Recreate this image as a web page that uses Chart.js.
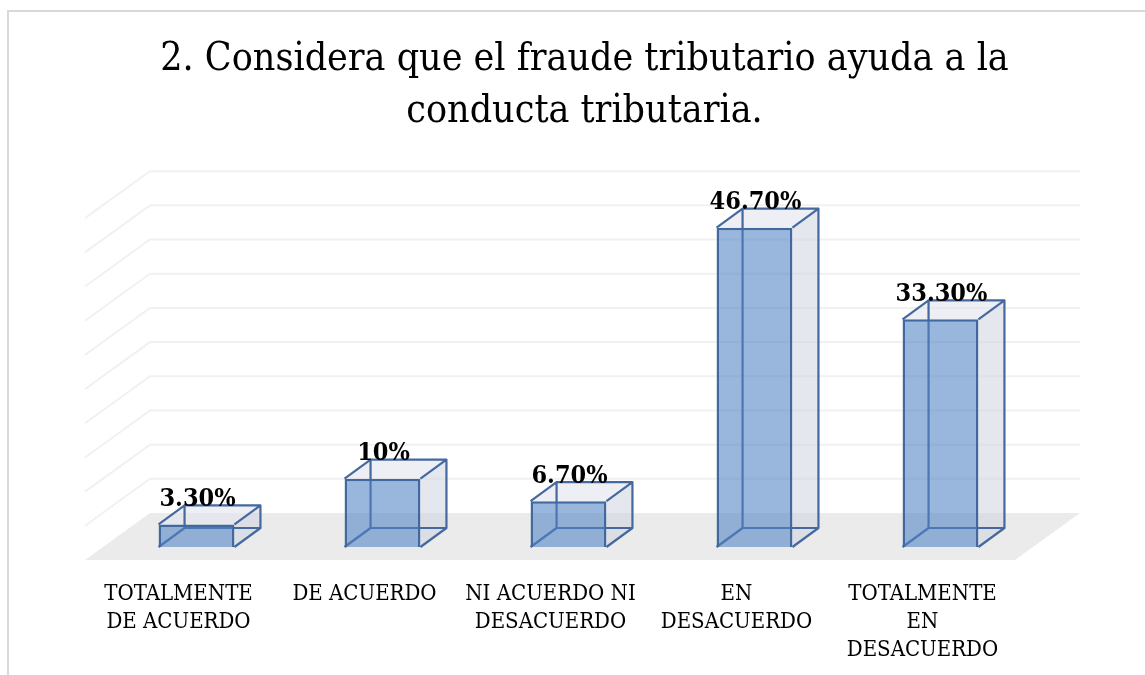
<!DOCTYPE html>
<html><head><meta charset="utf-8">
<style>html,body{margin:0;padding:0;background:#fff}canvas{display:block}</style>
<script src="https://cdn.jsdelivr.net/npm/chart.js@4"></script>
</head><body><canvas id="c" width="1145" height="675"></canvas>
<script>
const categories = [
  ["TOTALMENTE","DE ACUERDO"],
  ["DE ACUERDO"],
  ["NI ACUERDO NI","DESACUERDO"],
  ["EN","DESACUERDO"],
  ["TOTALMENTE","EN","DESACUERDO"]
];
const values = [3.3, 10, 6.7, 46.7, 33.3];
const valueLabels = ["3.30%","10%","6.70%","46.70%","33.30%"];
const titleLines = ["2. Considera que el fraude tributario ayuda a la","conducta tributaria."];
const SERIF = '"DejaVu Serif Condensed", "DejaVu Serif", serif';

const scene = {
  id:'scene',
  afterLayout(chart){
    chart.titleBlock.left += 16; chart.titleBlock.right += 16;
  },
  beforeDraw(chart){
    const c = chart.ctx; c.save();
    c.strokeStyle='#D9D9D9'; c.lineWidth=2;
    c.beginPath(); c.moveTo(8,675); c.lineTo(8,11); c.lineTo(1145,11); c.stroke();
    c.restore();
  },
  beforeDatasetsDraw(chart){
    const c = chart.ctx, y = chart.scales.y, a = chart.chartArea;
    const back={dx:46.5,dy:-34}, front={dx:-18.5,dy:13};
    const y0 = y.getPixelForValue(0);
    c.save();
    c.fillStyle='#EBEBEB';
    c.beginPath();
    c.moveTo(a.left+front.dx,y0+front.dy);
    c.lineTo(a.right+front.dx,y0+front.dy);
    c.lineTo(a.right+back.dx,y0+back.dy);
    c.lineTo(a.left+back.dx,y0+back.dy);
    c.closePath(); c.fill();
    c.strokeStyle='#F1F1F1'; c.lineWidth=2;
    y.ticks.forEach(t=>{
      if(t.value===0) return;
      const p=y.getPixelForValue(t.value);
      c.beginPath();
      c.moveTo(a.left+front.dx,p+front.dy);
      c.lineTo(a.left+back.dx,p+back.dy);
      c.lineTo(a.right+back.dx,p+back.dy);
      c.stroke();
    });
    const dx=26, dy=-19;
    chart.getDatasetMeta(0).data.forEach(b=>{
      const l=b.x-b.width/2, r=b.x+b.width/2, t=b.y, bt=b.base;
      c.fillStyle='rgba(205,212,224,0.55)';
      c.beginPath(); c.moveTo(r,t); c.lineTo(r+dx,t+dy); c.lineTo(r+dx,bt+dy); c.lineTo(r,bt); c.closePath(); c.fill();
      c.fillStyle='rgba(225,229,238,0.6)';
      c.beginPath(); c.moveTo(l,t); c.lineTo(l+dx,t+dy); c.lineTo(r+dx,t+dy); c.lineTo(r,t); c.closePath(); c.fill();
      c.strokeStyle='#45699F'; c.lineWidth=2.2; c.lineJoin='round';
      c.beginPath();
      c.moveTo(l,bt); c.lineTo(l+dx,bt+dy); c.lineTo(r+dx,bt+dy); c.lineTo(r,bt);
      c.moveTo(l+dx,bt+dy); c.lineTo(l+dx,t+dy);
      c.moveTo(l,t); c.lineTo(l+dx,t+dy); c.lineTo(r+dx,t+dy); c.lineTo(r,t);
      c.moveTo(r+dx,t+dy); c.lineTo(r+dx,bt+dy);
      c.stroke();
    });
    c.restore();
  },
  afterDatasetsDraw(chart){
    const c = chart.ctx; c.save();
    c.font='bold 25px '+SERIF; c.fillStyle='#000'; c.textAlign='center'; c.textBaseline='middle';
    chart.getDatasetMeta(0).data.forEach((b,i)=>{
      c.fillText(valueLabels[i], b.x+1, b.y-25);
    });
    c.restore();
  }
};

new Chart(document.getElementById('c'),{
  type:'bar',
  data:{labels:categories,datasets:[{
    data:values,
    backgroundColor:'rgba(79,129,196,0.58)',
    borderColor:'#41699F',
    borderWidth:2.5,
    barPercentage:0.408,
    categoryPercentage:1
  }]},
  plugins:[scene],
  options:{
    responsive:false,
    animation:false,
    events:[],
    layout:{padding:{left:103.5,right:111.5,top:0,bottom:0}},
    plugins:{
      legend:{display:false},
      tooltip:{enabled:false},
      title:{display:true,text:titleLines,color:'#000',
        font:{family:SERIF,size:39,weight:'normal',lineHeight:1.335},
        padding:{top:34,bottom:67}}
    },
    scales:{
      x:{
        grid:{display:false},border:{display:false},
        afterFit(s){s.height=128;},
        ticks:{color:'#000',font:{family:SERIF,size:22,lineHeight:1.27},
          maxRotation:0,minRotation:0,autoSkip:false,labelOffset:-18,padding:25}
      },
      y:{display:false,min:0,max:50,ticks:{stepSize:5}}
    }
  }
});
</script></body></html>
